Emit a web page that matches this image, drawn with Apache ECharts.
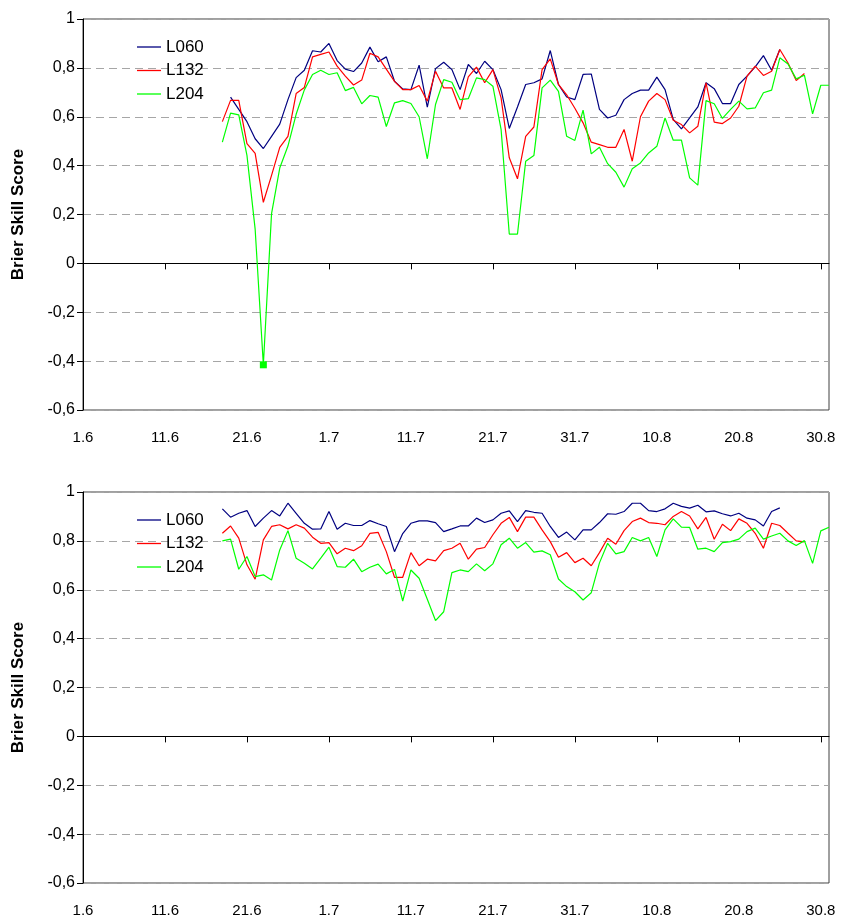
<!DOCTYPE html>
<html><head><meta charset="utf-8">
<script src="https://cdn.jsdelivr.net/npm/echarts@6/dist/echarts.min.js"></script>
<style>html,body{margin:0;padding:0;background:#fff}#c{width:841px;height:920px}</style>
</head><body><div id="c"></div>
<script>
// Day categories 1.6 ... 31.8
const monthLengths = [[6, 30], [7, 31], [8, 31]];
const categories = [];
monthLengths.forEach(([m, n]) => { for (let d = 1; d <= n; d++) categories.push(d + '.' + m); });
const xTickLabels = ['1.6', '11.6', '21.6', '1.7', '11.7', '21.7', '31.7', '10.8', '20.8', '30.8'];
const seriesNames = ['L060', 'L132', 'L204'];
const seriesColors = ['#000080', '#ff0000', '#00ff00'];
const yAxisTitle = 'Brier Skill Score';

// Top panel (first day index of each series = category index)
const topL060Start = 18;
const topL060 = [0.68,0.63,0.58,0.51,0.47,0.52,0.57,0.67,0.76,0.79,0.87,0.865,0.90,0.83,0.795,0.785,0.82,0.885,0.825,0.845,0.745,0.714,0.711,0.811,0.639,0.797,0.823,0.793,0.711,0.814,0.777,0.827,0.793,0.711,0.552,0.64,0.732,0.739,0.755,0.871,0.732,0.681,0.67,0.773,0.775,0.63,0.595,0.606,0.67,0.695,0.709,0.709,0.762,0.711,0.589,0.55,0.595,0.64,0.739,0.715,0.654,0.654,0.732,0.766,0.804,0.85,0.79,0.875];
const topL132Start = 17;
const topL132 = [0.58,0.667,0.667,0.49,0.45,0.25,0.36,0.475,0.52,0.695,0.72,0.845,0.855,0.865,0.807,0.766,0.73,0.75,0.86,0.845,0.795,0.745,0.711,0.711,0.728,0.664,0.786,0.718,0.718,0.63,0.763,0.803,0.739,0.793,0.677,0.432,0.346,0.52,0.558,0.793,0.837,0.732,0.69,0.635,0.575,0.496,0.486,0.475,0.475,0.548,0.418,0.60,0.664,0.695,0.67,0.586,0.568,0.534,0.561,0.739,0.578,0.572,0.595,0.643,0.766,0.807,0.769,0.786,0.875,0.82,0.748,0.777];
const topL204Start = 17;
const topL204 = [0.496,0.615,0.608,0.442,0.14,-0.415,0.204,0.39,0.48,0.61,0.71,0.773,0.79,0.773,0.78,0.707,0.72,0.653,0.687,0.68,0.56,0.657,0.666,0.654,0.60,0.428,0.65,0.752,0.741,0.67,0.674,0.759,0.752,0.725,0.548,0.12,0.12,0.418,0.441,0.718,0.75,0.704,0.52,0.503,0.627,0.448,0.475,0.408,0.373,0.312,0.387,0.411,0.452,0.479,0.595,0.504,0.504,0.35,0.32,0.666,0.653,0.593,0.63,0.664,0.632,0.636,0.698,0.709,0.841,0.816,0.755,0.77,0.612,0.729,0.729];

// Bottom panel
const botL060Start = 17;
const botL060 = [0.931,0.897,0.913,0.924,0.859,0.893,0.924,0.902,0.954,0.913,0.872,0.848,0.849,0.92,0.848,0.872,0.863,0.863,0.883,0.87,0.859,0.756,0.83,0.872,0.882,0.882,0.875,0.838,0.849,0.861,0.861,0.893,0.875,0.886,0.913,0.923,0.879,0.924,0.917,0.913,0.859,0.814,0.836,0.804,0.845,0.845,0.875,0.911,0.909,0.92,0.954,0.954,0.924,0.92,0.931,0.954,0.941,0.934,0.946,0.919,0.923,0.911,0.902,0.913,0.893,0.886,0.861,0.92,0.935];
const botL132Start = 17;
const botL132 = [0.831,0.861,0.811,0.702,0.643,0.804,0.859,0.866,0.849,0.866,0.852,0.815,0.79,0.793,0.747,0.77,0.76,0.78,0.831,0.835,0.756,0.651,0.651,0.752,0.698,0.725,0.718,0.76,0.77,0.79,0.725,0.766,0.773,0.825,0.872,0.896,0.838,0.897,0.897,0.845,0.797,0.733,0.752,0.711,0.729,0.698,0.752,0.811,0.786,0.842,0.879,0.893,0.875,0.872,0.866,0.9,0.92,0.902,0.849,0.896,0.807,0.868,0.842,0.89,0.872,0.831,0.77,0.872,0.863,0.831,0.8,0.796];
const botL204Start = 17;
const botL204 = [0.80,0.807,0.684,0.736,0.654,0.661,0.64,0.763,0.842,0.729,0.708,0.685,0.729,0.774,0.695,0.692,0.725,0.674,0.692,0.705,0.665,0.683,0.554,0.681,0.647,0.561,0.474,0.51,0.67,0.681,0.674,0.706,0.678,0.706,0.784,0.811,0.77,0.793,0.754,0.759,0.743,0.644,0.613,0.592,0.558,0.588,0.71,0.79,0.747,0.756,0.814,0.80,0.814,0.736,0.845,0.89,0.856,0.855,0.766,0.77,0.756,0.793,0.797,0.807,0.838,0.852,0.807,0.82,0.831,0.80,0.781,0.801,0.708,0.841,0.856];

function pad(start, vals) {
  const a = new Array(categories.length).fill(null);
  vals.forEach((v, i) => { a[start + i] = v; });
  return a;
}
function markMin(arr) {
  let mi = -1;
  arr.forEach((v, i) => { if (v !== null && (mi < 0 || v < arr[mi])) mi = i; });
  return arr.map((v, i) => i === mi ? { value: v, symbol: 'rect', symbolSize: 7 } : v);
}

const panels = [
  { top: 19, legendTop: 38.5, data: [pad(topL060Start, topL060), pad(topL132Start, topL132), markMin(pad(topL204Start, topL204))] },
  { top: 492, legendTop: 511.5, data: [pad(botL060Start, botL060), pad(botL132Start, botL132), pad(botL204Start, botL204)] }
];

const FONT = 'Liberation Sans, Arial, sans-serif';
const isTick = (idx, val) => xTickLabels.indexOf(val) >= 0;
const fmtY = v => String(Math.round(v * 10) / 10).replace('.', ',');

const option = {
  animation: false,
  backgroundColor: '#fff',
  textStyle: { fontFamily: FONT },
  grid: panels.map(p => ({
    left: 83, top: p.top, width: 746, height: 391,
    show: true, borderColor: '#404040', borderWidth: 1,
    outerBoundsMode: 'none'
  })),
  legend: panels.map(p => ({
    data: seriesNames, orient: 'vertical', left: 137, top: p.legendTop, padding: 0,
    icon: 'rect', itemWidth: 24, itemHeight: 1.3, itemGap: 6.5,
    textStyle: { fontSize: 17, color: '#000', fontFamily: FONT },
    selectedMode: false
  })),
  xAxis: [],
  yAxis: [],
  series: []
};

panels.forEach((p, gi) => {
  option.xAxis.push({
    type: 'category', gridIndex: gi, data: categories, boundaryGap: false, position: 'bottom',
    axisLine: { show: false, onZero: false },
    axisTick: { show: false },
    axisLabel: { interval: isTick, fontSize: 15, color: '#000', margin: 20, fontFamily: FONT },
    splitLine: { show: false }
  });
  option.xAxis.push({
    type: 'category', gridIndex: gi, data: categories, boundaryGap: false, position: 'bottom',
    axisLine: { show: true, onZero: true, lineStyle: { color: '#000', width: 1 } },
    axisTick: { show: true, interval: isTick, length: 6, lineStyle: { color: '#000' } },
    axisLabel: { show: false },
    splitLine: { show: false }
  });
  option.yAxis.push({
    type: 'value', gridIndex: gi, min: -0.6, max: 1, interval: 0.2,
    axisLine: { show: true, lineStyle: { color: '#000' } },
    axisTick: { show: true, length: 6, lineStyle: { color: '#000' } },
    axisLabel: { formatter: fmtY, fontSize: 16, color: '#000', margin: 8, fontFamily: FONT },
    splitLine: { show: true, lineStyle: { color: '#a6a6a6', type: [8, 5], width: 1 } },
    name: yAxisTitle, nameLocation: 'middle', nameGap: 56, nameRotate: 90,
    nameTextStyle: { fontWeight: 'bold', fontSize: 17, color: '#000', fontFamily: FONT }
  });
  p.data.forEach((d, si) => {
    option.series.push({
      name: seriesNames[si], type: 'line', xAxisIndex: gi * 2, yAxisIndex: gi,
      data: d, symbol: 'none', showAllSymbol: true, connectNulls: false,
      lineStyle: { color: seriesColors[si], width: 1.2 },
      itemStyle: { color: seriesColors[si] },
      emphasis: { disabled: true }, z: 2 + si
    });
  });
});

const chart = echarts.init(document.getElementById('c'), null, { renderer: 'canvas' });
chart.setOption(option);
</script>
</body></html>
